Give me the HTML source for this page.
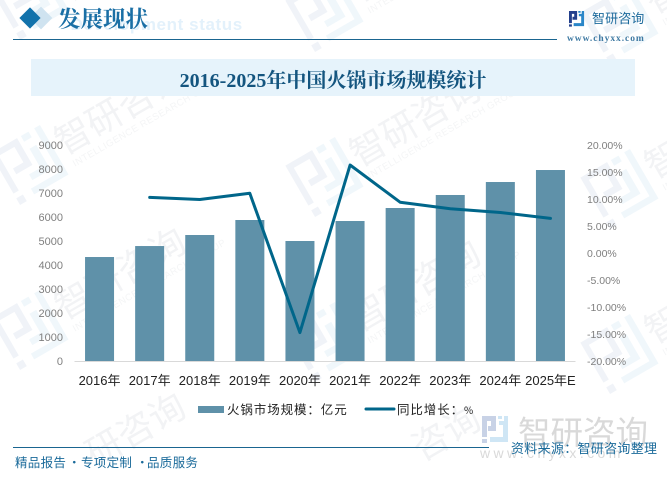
<!DOCTYPE html>
<html lang="zh">
<head>
<meta charset="utf-8">
<title>2016-2025年中国火锅市场规模统计</title>
<style>
html,body{margin:0;padding:0;background:#fff;}
body{width:667px;height:480px;overflow:hidden;}
svg{display:block;}
text{font-family:"Liberation Sans","Noto Sans CJK SC",sans-serif;}
.serif{font-family:"Liberation Serif","Noto Serif CJK SC",serif;}
.cn{font-family:"Noto Sans CJK SC",sans-serif;}
</style>
</head>
<body>
<svg id="chart" xmlns="http://www.w3.org/2000/svg" width="667" height="480" viewBox="0 0 667 480">
  <g id="watermarks"></g>

  <g>
    <text x="70.5" y="30" font-size="17" font-weight="bold" fill="#e3f1fb" letter-spacing=".6">Development status</text>
    <rect x="33" y="10" width="16" height="16" fill="#cfe3f0" transform="rotate(45 41 18)"/>
    <rect x="22.5" y="10.5" width="15" height="15" fill="#1272ab" transform="rotate(45 30 18)"/>
    <text class="serif" x="58" y="27" font-size="22.5" font-weight="bold" fill="#1a6fa5">发展现状</text>
    <rect x="13" y="39" width="544" height="1" fill="#1a6590"/>
    <g transform="translate(569 11) scale(.58)">
      <path fill="#23408c" d="M0 0H14V15H6V10H9V5H5V21H0ZM0 23H5V27H0Z"/>
      <path fill="#2a86c8" d="M22 0H26V26H8V21H21V9H17V5H22ZM16 0H20V3H16Z"/>
    </g>
    <text class="cn" x="592" y="23" font-size="13" letter-spacing=".1" fill="#1c6a9c">智研咨询</text>
    <text class="serif" x="567" y="41" font-size="9.5" font-weight="bold" letter-spacing=".95" fill="#3f7aa3">www.chyxx.com</text>
  </g>

  <rect x="31" y="59" width="604" height="37" fill="#e6f3fb"/>
  <text class="serif" x="333" y="87" font-size="20" font-weight="bold" fill="#14557f" text-anchor="middle">2016-2025年中国火锅市场规模统计</text>

  <g id="plot"></g>

  <g>
    <g>
      <rect x="198" y="406" width="26" height="7" fill="#5f91a9"/>
      <text class="cn" x="227" y="414" font-size="12.5" letter-spacing=".9" fill="#222">火锅市场规模：亿元</text>
    </g>
    <g>
      <line x1="366" y1="409" x2="394" y2="409" stroke="#00668a" stroke-width="3" stroke-linecap="round"/>
      <text class="cn" x="397" y="414" font-size="12.5" letter-spacing=".9" fill="#222">同比增长：<tspan font-size="10">%</tspan></text>
    </g>
  </g>

  <g>
    <g transform="translate(482 416)">
      <path fill="#c8d2e6" d="M0 0H14V15H6V10H9V5H5V21H0ZM0 23H5V27H0Z"/>
      <path fill="#cfe6f5" d="M22 0H26V26H8V21H21V9H17V5H22ZM16 0H20V3H16Z"/>
    </g>
    <text class="cn" x="518" y="444" font-size="32.5" fill="#d9d9d9">智研咨询</text>
    <text x="480" y="458" font-size="14" letter-spacing="3.4" fill="#d9d9d9">www.chyxx.com</text>
    <rect x="13" y="447" width="476" height="1" fill="#1a6590"/>
    <text class="cn" y="467" font-size="12.5" letter-spacing=".3" fill="#1a6a9a"><tspan x="15">精品报告</tspan><tspan x="68">·</tspan><tspan x="81">专项定制</tspan><tspan x="136">·</tspan><tspan x="147">品质服务</tspan></text>
    <text class="cn" x="511" y="453" font-size="13" letter-spacing=".3" fill="#1a6a9a">资料来源：智研咨询整理</text>
  </g>
</svg>

<script>
const categories = ["2016年","2017年","2018年","2019年","2020年","2021年","2022年","2023年","2024年","2025年E"];
const marketSize = [4333,4790,5250,5875,5000,5833,6375,6917,7458,7958];
const growthRate = [null,10.3,9.9,11.05,-14.75,16.3,9.4,8.2,7.5,6.4];
const leftTicks = [0,1000,2000,3000,4000,5000,6000,7000,8000,9000];
const rightTicks = ["-20.00%","-15.00%","-10.00%","-5.00%","0.00%","5.00%","10.00%","15.00%","20.00%"];

const NS = "http://www.w3.org/2000/svg";
const plotLeft = 74.5, plotRight = 575.5, plotTop = 145, plotBottom = 361;
const leftMax = 9000, rightMin = -20, rightMax = 20;
const barWidth = 29;

function make(tag, parent) {
  const el = document.createElementNS(NS, tag);
  parent.appendChild(el);
  return el;
}
function xCenter(i) { return plotLeft + (plotRight - plotLeft) * (i + 0.5) / categories.length; }
function yLeft(v) { return plotBottom - (plotBottom - plotTop) * v / leftMax; }
function yRight(v) { return plotBottom - (plotBottom - plotTop) * (v - rightMin) / (rightMax - rightMin); }

const plot = document.getElementById("plot");

const baseline = make("line", plot);


baseline.setAttribute("x1", plotLeft);
baseline.setAttribute("x2", plotRight);
baseline.setAttribute("y1", plotBottom + 0.5);
baseline.setAttribute("y2", plotBottom + 0.5);
baseline.setAttribute("stroke", "#d9d9d9");

leftTicks.forEach(function (t) {
  const el = make("text", plot);
  
  
  el.setAttribute("x", 63);
  el.setAttribute("y", yLeft(t) + 4);
  el.setAttribute("font-size", "11");
  el.setAttribute("fill", "#7f7f7f");
  el.setAttribute("text-anchor", "end");
  el.textContent = t;
});

rightTicks.forEach(function (t) {
  const el = make("text", plot);
  
  
  el.setAttribute("x", 587);
  el.setAttribute("y", yRight(parseFloat(t)) + 4);
  el.setAttribute("font-size", "10.5");
  el.setAttribute("fill", "#7f7f7f");
  el.textContent = t;
});

categories.forEach(function (c, i) {
  const el = make("text", plot);
  
  
  el.setAttribute("x", xCenter(i));
  el.setAttribute("y", 385);
  el.setAttribute("font-size", "13");
  el.setAttribute("fill", "#222");
  el.setAttribute("text-anchor", "middle");
  el.textContent = c;
});

marketSize.forEach(function (v, i) {
  const el = make("rect", plot);
  
  
  el.setAttribute("x", xCenter(i) - barWidth / 2);
  el.setAttribute("y", yLeft(v));
  el.setAttribute("width", barWidth);
  el.setAttribute("height", plotBottom - yLeft(v));
  el.setAttribute("fill", "#5f91a9");
});

const points = [];
growthRate.forEach(function (v, i) {
  if (v !== null) points.push(xCenter(i).toFixed(1) + "," + yRight(v).toFixed(1));
});
const growthLine = make("polyline", plot);


growthLine.setAttribute("points", points.join(" "));
growthLine.setAttribute("fill", "none");
growthLine.setAttribute("stroke", "#00668a");
growthLine.setAttribute("stroke-width", "3");
growthLine.setAttribute("stroke-linejoin", "round");
growthLine.setAttribute("stroke-linecap", "round");

const wmLayer = document.getElementById("watermarks");
const wmName = "智研咨询";
for (let row = 0; row < 4; row++) {
  for (let col = 0; col < 3; col++) {
    const tx = 30 + col * 295;
    const ty = row * 165 + col * 12;
    const g = make("g", wmLayer);
    
    
    g.setAttribute("transform", "translate(" + tx + " " + ty + ") rotate(-30)");
    if (row === 3) {
      /* the bottom row sits mostly off-frame: only the characters inside the frame are drawn */
      const firstChar = col === 0 ? 1 : (col === 1 ? 2 : 3);
      for (let c = firstChar; c < wmName.length; c++) {
        const ch = make("text", g);
        ch.setAttribute("class", "cn");
        ch.setAttribute("x", 34 + c * 36);
        ch.setAttribute("y", 9);
        ch.setAttribute("font-size", "36");
        ch.setAttribute("fill", "#f2f3f5");
        ch.textContent = wmName.charAt(c);
      }
      continue;
    }
    const logo = make("g", g);
    logo.setAttribute("transform", "scale(2.2) translate(-13 -13.5)");
    const p1 = make("path", logo);
    p1.setAttribute("fill", "#f0f3f8");
    p1.setAttribute("d", "M0 0H14V14H5.5V11H11V2.8H2.8V21H0ZM0 23.5H3.5V27H0Z");
    const p2 = make("path", logo);
    p2.setAttribute("fill", "#f0f7fb");
    p2.setAttribute("d", "M23 0H26V26H8V23H23ZM16 0H20V3H16ZM16.5 7H20V20H10.5V17H16.5Z");
    const name = make("text", g);
    name.setAttribute("class", "cn");
    name.setAttribute("x", 34);
    name.setAttribute("y", 9);
    name.setAttribute("font-size", "36");
    name.setAttribute("fill", "#f2f3f5");
    name.textContent = wmName;
    const sub = make("text", g);
    sub.setAttribute("x", 38);
    sub.setAttribute("y", 24);
    sub.setAttribute("font-size", "9.5");
    sub.setAttribute("letter-spacing", ".5");
    sub.setAttribute("fill", "#f4f5f6");
    sub.textContent = "INTELLIGENCE RESEARCH GROUP";
  }
}
</script>
</body>
</html>
